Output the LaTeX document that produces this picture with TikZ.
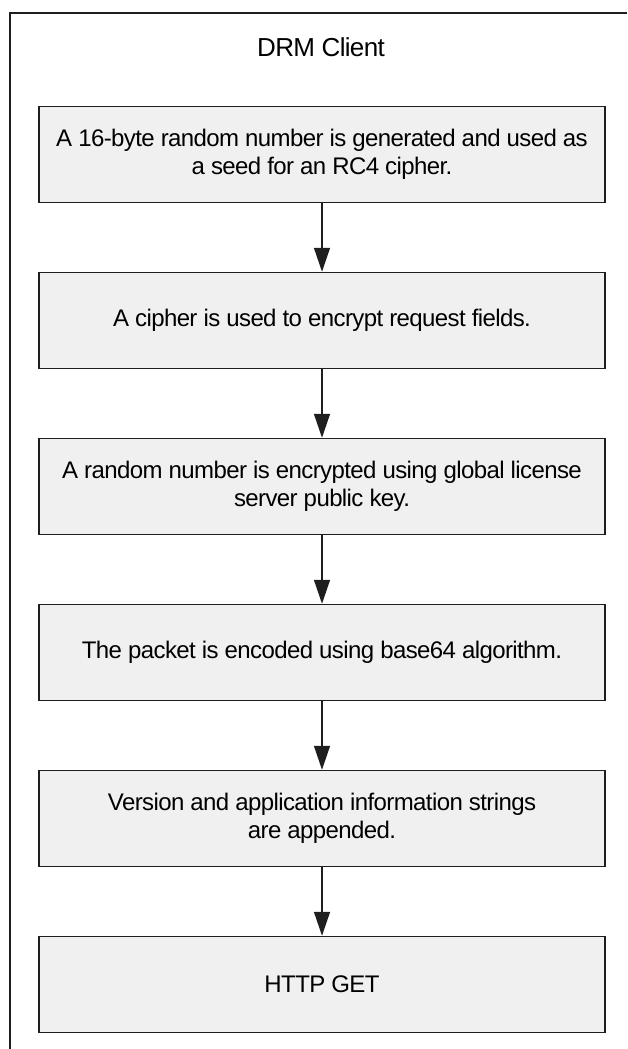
\documentclass[tikz,border=0pt]{standalone}
\usepackage{fontspec}
\usetikzlibrary{arrows.meta}
\newfontfamily\diagfont[LetterSpace=-2.5]{Liberation Sans}
\definecolor{boxgray}{HTML}{F0F0F0}
\definecolor{edgegray}{HTML}{1E1E1E}
\tikzset{
  stepbox/.style={draw=edgegray, fill=boxgray, line width=1.5pt,
    minimum width=566pt, minimum height=96pt, align=center, inner sep=0pt,
    font=\diagfont\fontsize{24}{28}\selectfont},
  flow/.style={draw=edgegray, line width=1.5pt,
    -{Triangle[length=24pt,width=16pt]}},
  frameline/.style={draw=edgegray, line width=1.5pt},
}
\begin{document}
\begin{tikzpicture}[x=1pt,y=-1pt]
  \useasboundingbox (0,0) rectangle (627,1049);
  % swimlane frame
  \coordinate (fr) at (627,13);
  \coordinate (fc) at (10,13);
  \coordinate (fb) at (10,1049);
  \draw[frameline] (fr) -- (fc) -- (fb);
  \node[font=\diagfont\fontsize{26}{30}\selectfont] (title) at (321,47) {DRM Client};
  % process steps
  \node[stepbox] (b1) at (322,154.5) {A 16-byte random number is generated and used as\\a seed for an RC4 cipher.};
  \node[stepbox] (b2) at (322,320.5) {A cipher is used to encrypt request fields.};
  \node[stepbox] (b3) at (322,486.5) {A random number is encrypted using global license\\server public key.};
  \node[stepbox] (b4) at (322,652.5) {The packet is encoded using base64 algorithm.};
  \node[stepbox] (b5) at (322,818.5) {Version and application information strings\\are appended.};
  \node[stepbox] (b6) at (322,984.5) {HTTP GET};
  % connectors
  \draw[flow] (b1.south) -- (b2.north);
  \draw[flow] (b2.south) -- (b3.north);
  \draw[flow] (b3.south) -- (b4.north);
  \draw[flow] (b4.south) -- (b5.north);
  \draw[flow] (b5.south) -- (b6.north);
\end{tikzpicture}
\end{document}
